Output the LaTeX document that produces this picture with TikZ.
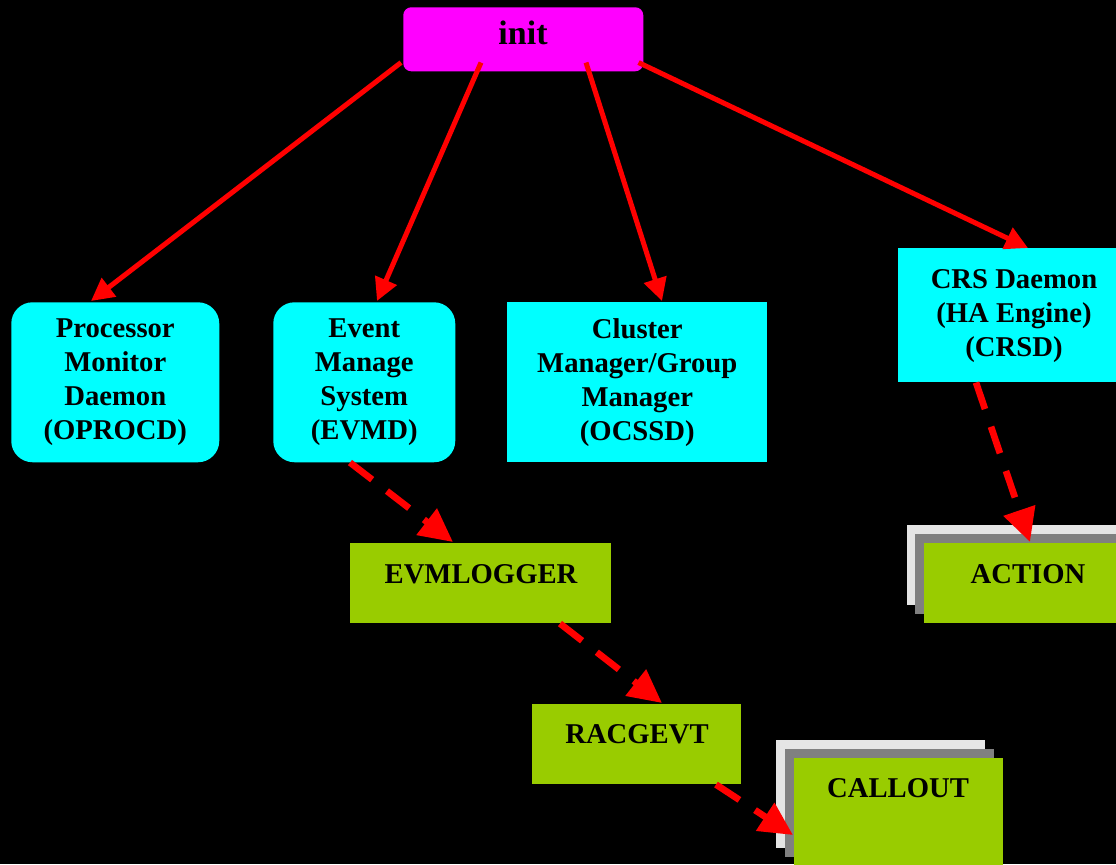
\documentclass[tikz,border=0pt]{standalone}
\usepackage{fontspec}
\setmainfont{Liberation Serif}
\usetikzlibrary{arrows.meta,calc}
\definecolor{initmag}{HTML}{FF00FF}
\definecolor{daemoncyan}{HTML}{00FFFF}
\definecolor{procgreen}{HTML}{99CC00}
\definecolor{shadelight}{HTML}{E5E5E5}
\definecolor{shadedark}{HTML}{808080}
\definecolor{linkred}{HTML}{FF0000}
\tikzset{
  pxbox/.style 2 args={rectangle, inner sep=0pt, draw=none, anchor=north west,
    minimum width=#1*0.75pt, minimum height=#2*0.75pt},
  txt/.style={font=\bfseries\fontsize{21.5}{25.5}\selectfont, align=center, text=black},
  daemon/.style={fill=daemoncyan, txt},
  roundeddaemon/.style={daemon, rounded corners=16pt},
  proc/.style={fill=procgreen},
  lbl/.style={txt, inner sep=0pt},
  spawn/.style={draw=linkred, line width=3.75pt,
    -{Triangle[length=17pt,width=17pt]}},
  notify/.style={draw=linkred, line width=5pt, dash pattern=on 21pt off 14pt,
    -{Triangle[length=25pt,width=24pt]}}
}
\begin{document}
\begin{tikzpicture}[x=0.75pt,y=-0.75pt]
  \useasboundingbox (0,0) rectangle (1116,864);
  \fill[black] (0,0) rectangle (1116,864);

  % root process
  \node[pxbox={240}{64}, fill=initmag, rounded corners=6pt] (init) at (403,7) {};
  \node[font=\bfseries\fontsize{25.5}{30}\selectfont, inner sep=0pt] (inittxt) at (523,33) {init};

  % daemons started by init
  \node[pxbox={208}{160}, roundeddaemon] (proc) at (11,302)
    {Processor\\Monitor\\Daemon\\(OPROCD)};
  \node[pxbox={182}{160}, roundeddaemon] (evmd) at (273,302)
    {Event\\Manage\\System\\(EVMD)};
  \node[pxbox={260}{160}, daemon] (ocssd) at (507,302)
    {Cluster\\Manager/Group\\Manager\\(OCSSD)};
  \node[pxbox={218}{134}, fill=daemoncyan] (crsd) at (898,248) {};
  \node[lbl] (crsdtxt) at (1014,316) {CRS Daemon\\(HA Engine)\\(CRSD)};

  % event chain
  \node[pxbox={261}{80}, proc] (evmlogger) at (350,543) {};
  \node[lbl] (evmloggertxt) at (481,574) {EVMLOGGER};
  \node[pxbox={209}{80}, proc] (racgevt) at (532,704) {};
  \node[lbl] (racgevttxt) at (637,734) {RACGEVT};

  % stacked ACTION boxes
  \node[pxbox={209}{80}, fill=shadelight] (actionback) at (907,525) {};
  \node[pxbox={201}{80}, fill=shadedark] (actionmid) at (915,534) {};
  \node[pxbox={192}{80}, proc] (action) at (924,543) {};
  \node[lbl] (actiontxt) at (1028,574) {ACTION};

  % stacked CALLOUT boxes
  \node[pxbox={209}{108}, fill=shadelight] (calloutback) at (776,740) {};
  \node[pxbox={209}{108}, fill=shadedark] (calloutmid) at (785,749) {};
  \node[pxbox={209}{108}, proc] (callout) at (794,758) {};
  \node[lbl] (callouttxt) at (898,788) {CALLOUT};

  % init spawns the daemons
  \draw[spawn] ($(init.south west)+(-2,-9)$) -- ($(proc.north west)+(80,-1)$);
  \draw[spawn] ($(init.south west)+(78,-9)$) -- ($(evmd.north west)+(104,-1)$);
  \draw[spawn] ($(init.south west)+(183,-9)$) -- ($(ocssd.north west)+(155,-1)$);
  \draw[spawn] ($(init.south east)+(-5,-9)$) -- ($(crsd.north west)+(130,0)$);

  % event propagation
  \draw[notify] ($(evmd.south west)+(77,0)$) -- ($(evmlogger.north west)+(103,-1)$);
  \draw[notify] ($(evmlogger.south west)+(210,0)$) -- ($(racgevt.north west)+(130,-1)$);
  \draw[notify] ($(racgevt.south west)+(184,0)$) -- ($(callout.north west)+(-1,77)$);
  \draw[notify] ($(crsd.south west)+(78,0)$) -- ($(action.north west)+(106,-1)$);
\end{tikzpicture}
\end{document}
